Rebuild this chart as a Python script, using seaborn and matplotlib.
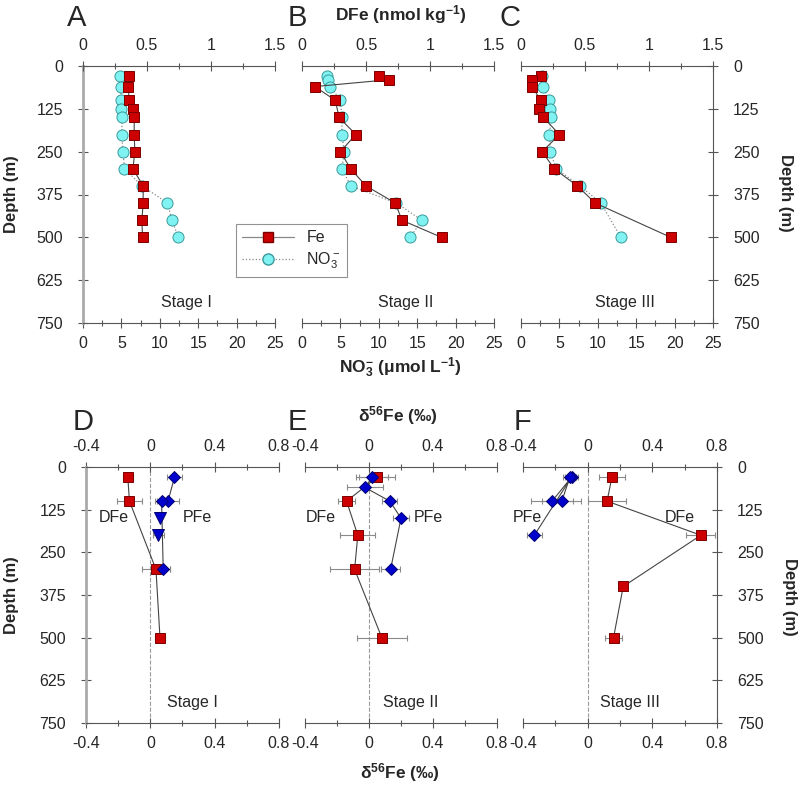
import matplotlib
matplotlib.use('Agg')
import matplotlib.pyplot as plt
from matplotlib.lines import Line2D
from matplotlib.ticker import MultipleLocator, FuncFormatter
import seaborn as sns

sns.set_style('ticks')
plt.rcParams['font.family'] = ['Liberation Sans', 'DejaVu Sans']
plt.rcParams['mathtext.fontset'] = 'custom'
plt.rcParams['mathtext.rm'] = 'Liberation Sans'
plt.rcParams['mathtext.bf'] = 'Liberation Sans:bold'
plt.rcParams['mathtext.it'] = 'Liberation Sans:italic'

#%% data: DFe (nmol/kg) and NO3- (umol/L) profiles
a_fe_depth = [30, 60, 100, 125, 150, 200, 250, 300, 350, 400, 450, 500]
a_fe = [0.36, 0.355, 0.36, 0.39, 0.40, 0.40, 0.405, 0.39, 0.47, 0.47, 0.46, 0.465]
a_no3_depth = [30, 60, 100, 125, 150, 200, 250, 300, 350, 400, 450, 500]
a_no3 = [4.85, 4.95, 4.95, 5.0, 5.1, 5.05, 5.2, 5.4, 7.7, 11.0, 11.6, 12.4]

b_fe_depth = [30, 40, 60, 100, 150, 200, 250, 300, 350, 400, 450, 500]
b_fe = [0.60, 0.68, 0.10, 0.26, 0.29, 0.42, 0.30, 0.38, 0.50, 0.73, 0.78, 1.09]
b_no3_depth = [30, 40, 60, 100, 150, 200, 250, 300, 350, 400, 450, 500]
b_no3 = [3.25, 3.45, 3.7, 5.0, 5.2, 5.2, 5.5, 5.2, 6.35, 12.3, 15.6, 14.1]

c_fe_depth = [30, 40, 60, 100, 125, 150, 200, 250, 300, 350, 400, 500]
c_fe = [0.155, 0.085, 0.085, 0.155, 0.14, 0.175, 0.30, 0.165, 0.26, 0.44, 0.58, 1.17]
c_no3_depth = [30, 60, 100, 125, 150, 200, 250, 300, 350, 400, 500]
c_no3 = [2.7, 2.85, 3.7, 3.75, 3.9, 3.7, 3.8, 4.6, 7.7, 10.4, 13.0]

#%% data: d56Fe (permil) profiles, dissolved and particulate
d_dfe_depth = [30, 100, 300, 500]
d_dfe = [-0.14, -0.13, 0.035, 0.06]
d_dfe_err = [0.03, 0.08, 0.085, 0.03]
d_pfe_depth = [30, 100, 100, 300]
d_pfe = [0.15, 0.11, 0.07, 0.08]
d_pfe_err = [0.045, 0.07, 0.04, 0.045]
d_pfe2_depth = [150, 200]
d_pfe2 = [0.06, 0.05]
d_pfe2_err = [0.0, 0.035]

e_dfe_depth = [30, 100, 200, 300, 500]
e_dfe = [0.05, -0.14, -0.07, -0.09, 0.08]
e_dfe_err = [0.11, 0.055, 0.11, 0.155, 0.155]
e_pfe_depth = [30, 60, 100, 150, 300]
e_pfe = [0.02, -0.025, 0.13, 0.20, 0.135]
e_pfe_err = [0.10, 0.11, 0.047, 0.05, 0.057]

f_dfe_depth = [30, 100, 200, 350, 500]
f_dfe = [0.15, 0.12, 0.70, 0.22, 0.16]
f_dfe_err = [0.08, 0.12, 0.09, 0.0, 0.05]
f_pfe_depth = [100, 30, 200]
f_pfe = [-0.22, -0.10, -0.33]
f_pfe_err = [0.13, 0.04, 0.045]
f_pfe2_depth = [30, 100]
f_pfe2 = [-0.11, -0.16]
f_pfe2_err = [0.04, 0.12]

depth_ticks = [0, 125, 250, 375, 500, 625, 750]

RED, RED_E = '#cc0000', '#7a0000'
CYAN, CYAN_E = '#80f2f2', '#3a9a9a'
BLUE, BLUE_E = '#0000cc', '#000070'
AXC = '#555555'
TICK_FS = 11.5

W, H = 802, 789
fig = plt.figure(figsize=(W / 100, H / 100), dpi=100)
fmt = FuncFormatter(lambda v, p: f'{v:g}')


def rect(x0, x1, y0, y1):
    return [x0 / W, 1 - y1 / H, (x1 - x0) / W, (y1 - y0) / H]


def style_y(ax, side):
    ax.set_ylim(750, 0)
    ax.set_yticks(depth_ticks)
    for s in ['left', 'right']:
        ax.spines[s].set_visible(False)
    if side == 'left':
        ax.spines['left'].set_visible(True)
        ax.spines['left'].set_color('#aaaaaa')
        ax.spines['left'].set_linewidth(2)
        ax.tick_params(axis='y', left=True, labelleft=True, right=False,
                       direction='inout', length=7, width=0.8, color=AXC,
                       pad=11, labelsize=TICK_FS)
    elif side == 'right':
        ax.spines['right'].set_visible(True)
        ax.spines['right'].set_color(AXC)
        ax.spines['right'].set_linewidth(0.8)
        ax.yaxis.tick_right()
        ax.tick_params(axis='y', right=True, labelright=True, left=False,
                       direction='inout', length=7, width=0.8, color=AXC,
                       pad=11, labelsize=TICK_FS)
    else:
        ax.tick_params(axis='y', left=False, right=False,
                       labelleft=False, labelright=False)
    ax.set_ylabel('')


def top_panel(r, fe_depth, fe, no3_depth, no3, stage, side):
    ax = fig.add_axes(r)        # NO3 axis (bottom)
    axt = ax.twiny()            # DFe axis (top)
    sns.lineplot(x=no3, y=no3_depth, ax=ax, sort=False, estimator=None,
                 color='#888888', linestyle=':', linewidth=0.9, marker='o',
                 markersize=8, markerfacecolor=CYAN, markeredgecolor=CYAN_E,
                 markeredgewidth=0.7)
    sns.lineplot(x=fe, y=fe_depth, ax=axt, sort=False, estimator=None,
                 color='#444444', linewidth=0.8, marker='s',
                 markersize=7, markerfacecolor=RED, markeredgecolor=RED_E,
                 markeredgewidth=0.7)
    ax.set_xlim(0, 25)
    axt.set_xlim(0, 1.5)
    ax.xaxis.set_major_locator(MultipleLocator(5))
    ax.xaxis.set_minor_locator(MultipleLocator(2.5))
    axt.xaxis.set_major_locator(MultipleLocator(0.5))
    axt.xaxis.set_minor_locator(MultipleLocator(0.25))
    ax.xaxis.set_major_formatter(fmt)
    axt.xaxis.set_major_formatter(fmt)
    for a in (ax, axt):
        a.tick_params(axis='x', which='major', direction='inout', length=7,
                      width=0.8, color=AXC, labelsize=TICK_FS, pad=6)
        a.tick_params(axis='x', which='minor', direction='inout', length=4,
                      width=0.8, color=AXC)
        a.set_xlabel('')
        a.set_ylabel('')
    ax.spines['top'].set_visible(False)
    ax.spines['bottom'].set_color(AXC)
    ax.spines['bottom'].set_linewidth(0.8)
    for s in ['left', 'right', 'bottom']:
        axt.spines[s].set_visible(False)
    axt.spines['top'].set_color(AXC)
    axt.spines['top'].set_linewidth(0.8)
    style_y(ax, side)
    ax.text(0.54, 0.08, stage, transform=ax.transAxes, ha='center',
            va='center', fontsize=11.5)
    return ax, axt


def iso_panel(r, dfe_depth, dfe, dfe_err, pfe_depth, pfe, pfe_err, stage, side,
              pfe2_depth=None, pfe2=None, pfe2_err=None, pfe2_marker='v',
              pfe2_line=False, labels=()):
    ax = fig.add_axes(r)
    ax.axvline(0, color='#9a9a9a', linestyle='--', linewidth=0.8, zorder=0)
    eb = dict(fmt='none', ecolor='#8a8a8a', elinewidth=0.8, capsize=2,
              capthick=0.8, zorder=1)
    ax.errorbar(dfe, dfe_depth, xerr=dfe_err, **eb)
    ax.errorbar(pfe, pfe_depth, xerr=pfe_err, **eb)
    sns.lineplot(x=dfe, y=dfe_depth, ax=ax, sort=False, estimator=None,
                 color='#444444', linewidth=0.8, marker='s', markersize=7,
                 markerfacecolor=RED, markeredgecolor=RED_E,
                 markeredgewidth=0.7, zorder=3)
    sns.lineplot(x=pfe, y=pfe_depth, ax=ax, sort=False, estimator=None,
                 color='#444444', linewidth=0.8, marker='D', markersize=6.5,
                 markerfacecolor=BLUE, markeredgecolor=BLUE_E,
                 markeredgewidth=0.7, zorder=3)
    if pfe2 is not None:
        ax.errorbar(pfe2, pfe2_depth, xerr=pfe2_err, **eb)
        sns.lineplot(x=pfe2, y=pfe2_depth, ax=ax, sort=False, estimator=None,
                     color='#444444', linewidth=0.8 if pfe2_line else 0,
                     marker=pfe2_marker,
                     markersize=6.5 if pfe2_marker == 'D' else 8,
                     markerfacecolor=BLUE, markeredgecolor=BLUE_E,
                     markeredgewidth=0.7, zorder=3)
    ax.set_xlim(-0.4, 0.8)
    ax.xaxis.set_major_locator(MultipleLocator(0.4))
    ax.xaxis.set_minor_locator(MultipleLocator(0.2))
    ax.xaxis.set_major_formatter(fmt)
    ax.tick_params(axis='x', which='both', top=True, bottom=True,
                   labeltop=True, labelbottom=True, direction='inout',
                   width=0.8, color=AXC)
    ax.tick_params(axis='x', which='major', length=7, labelsize=TICK_FS, pad=6)
    ax.tick_params(axis='x', which='minor', length=4)
    for s in ['top', 'bottom']:
        ax.spines[s].set_color(AXC)
        ax.spines[s].set_linewidth(0.8)
    ax.set_xlabel('')
    style_y(ax, side)
    for x, y, t in labels:
        ax.text(x, y, t, ha='center', va='center', fontsize=11.5)
    ax.text(0.55, 0.08, stage, transform=ax.transAxes, ha='center',
            va='center', fontsize=11.5)
    return ax


top_panel(rect(83, 275, 66, 323), a_fe_depth, a_fe, a_no3_depth, a_no3,
          'Stage I', 'left')
top_panel(rect(302, 494, 66, 323), b_fe_depth, b_fe, b_no3_depth, b_no3,
          'Stage II', 'none')
top_panel(rect(521, 713, 66, 323), c_fe_depth, c_fe, c_no3_depth, c_no3,
          'Stage III', 'right')

iso_panel(rect(86, 279, 467, 723), d_dfe_depth, d_dfe, d_dfe_err,
          d_pfe_depth, d_pfe, d_pfe_err, 'Stage I', 'left',
          pfe2_depth=d_pfe2_depth, pfe2=d_pfe2, pfe2_err=d_pfe2_err,
          labels=[(-0.23, 148, 'DFe'), (0.29, 148, 'PFe')])
iso_panel(rect(305, 497, 467, 723), e_dfe_depth, e_dfe, e_dfe_err,
          e_pfe_depth, e_pfe, e_pfe_err, 'Stage II', 'none',
          labels=[(-0.3, 148, 'DFe'), (0.37, 148, 'PFe')])
iso_panel(rect(523, 717, 467, 723), f_dfe_depth, f_dfe, f_dfe_err,
          f_pfe_depth, f_pfe, f_pfe_err, 'Stage III', 'right',
          pfe2_depth=f_pfe2_depth, pfe2=f_pfe2, pfe2_err=f_pfe2_err,
          pfe2_marker='D', pfe2_line=True,
          labels=[(-0.37, 148, 'PFe'), (0.57, 148, 'DFe')])

# panel letters
for x, y, t in [(77, 18, 'A'), (297, 18, 'B'), (510, 18, 'C'),
                (83, 422, 'D'), (297, 422, 'E'), (523, 422, 'F')]:
    fig.text(x / W, 1 - y / H, t, ha='center', va='center', fontsize=21)

# axis titles
fig.text(401 / W, 1 - 15 / H, r'DFe (nmol kg$^{\mathbf{-1}}$)', ha='center',
         va='center', fontsize=12.5, fontweight='bold')
fig.text(400 / W, 1 - 368 / H, r'NO$_{\mathbf{3}}^{\mathbf{-}}$ ($\mathbf{\mu}$mol L$^{\mathbf{-1}}$)',
         ha='center', va='center', fontsize=12.5, fontweight='bold')
fig.text(398 / W, 1 - 416 / H, r'δ$^{\mathbf{56}}$Fe (‰)', ha='center',
         va='center', fontsize=12.5, fontweight='bold')
fig.text(400 / W, 1 - 773 / H, r'δ$^{\mathbf{56}}$Fe (‰)', ha='center',
         va='center', fontsize=12.5, fontweight='bold')
for x, y, rot in [(12, 194, 90), (12, 595, 90), (785, 193, 270), (790, 597, 270)]:
    fig.text(x / W, 1 - y / H, 'Depth (m)', rotation=rot, ha='center',
             va='center', fontsize=12, fontweight='bold')

# legend
handles = [Line2D([], [], color='#888888', lw=0.9, marker='s', markersize=7,
                  markerfacecolor=RED, markeredgecolor=RED_E),
           Line2D([], [], color='#888888', lw=0.9, ls=':', marker='o',
                  markersize=8, markerfacecolor=CYAN, markeredgecolor=CYAN_E)]
leg = fig.legend(handles, ['Fe', r'NO$_3^-$'], loc='upper left',
                 bbox_to_anchor=(236 / W, 1 - 224 / H), frameon=True,
                 fancybox=False, fontsize=11.5, handlelength=3.2,
                 borderaxespad=0, labelspacing=0.3)
leg.get_frame().set_edgecolor('#777777')
leg.get_frame().set_linewidth(0.8)

fig.savefig('out.png', dpi=100)
